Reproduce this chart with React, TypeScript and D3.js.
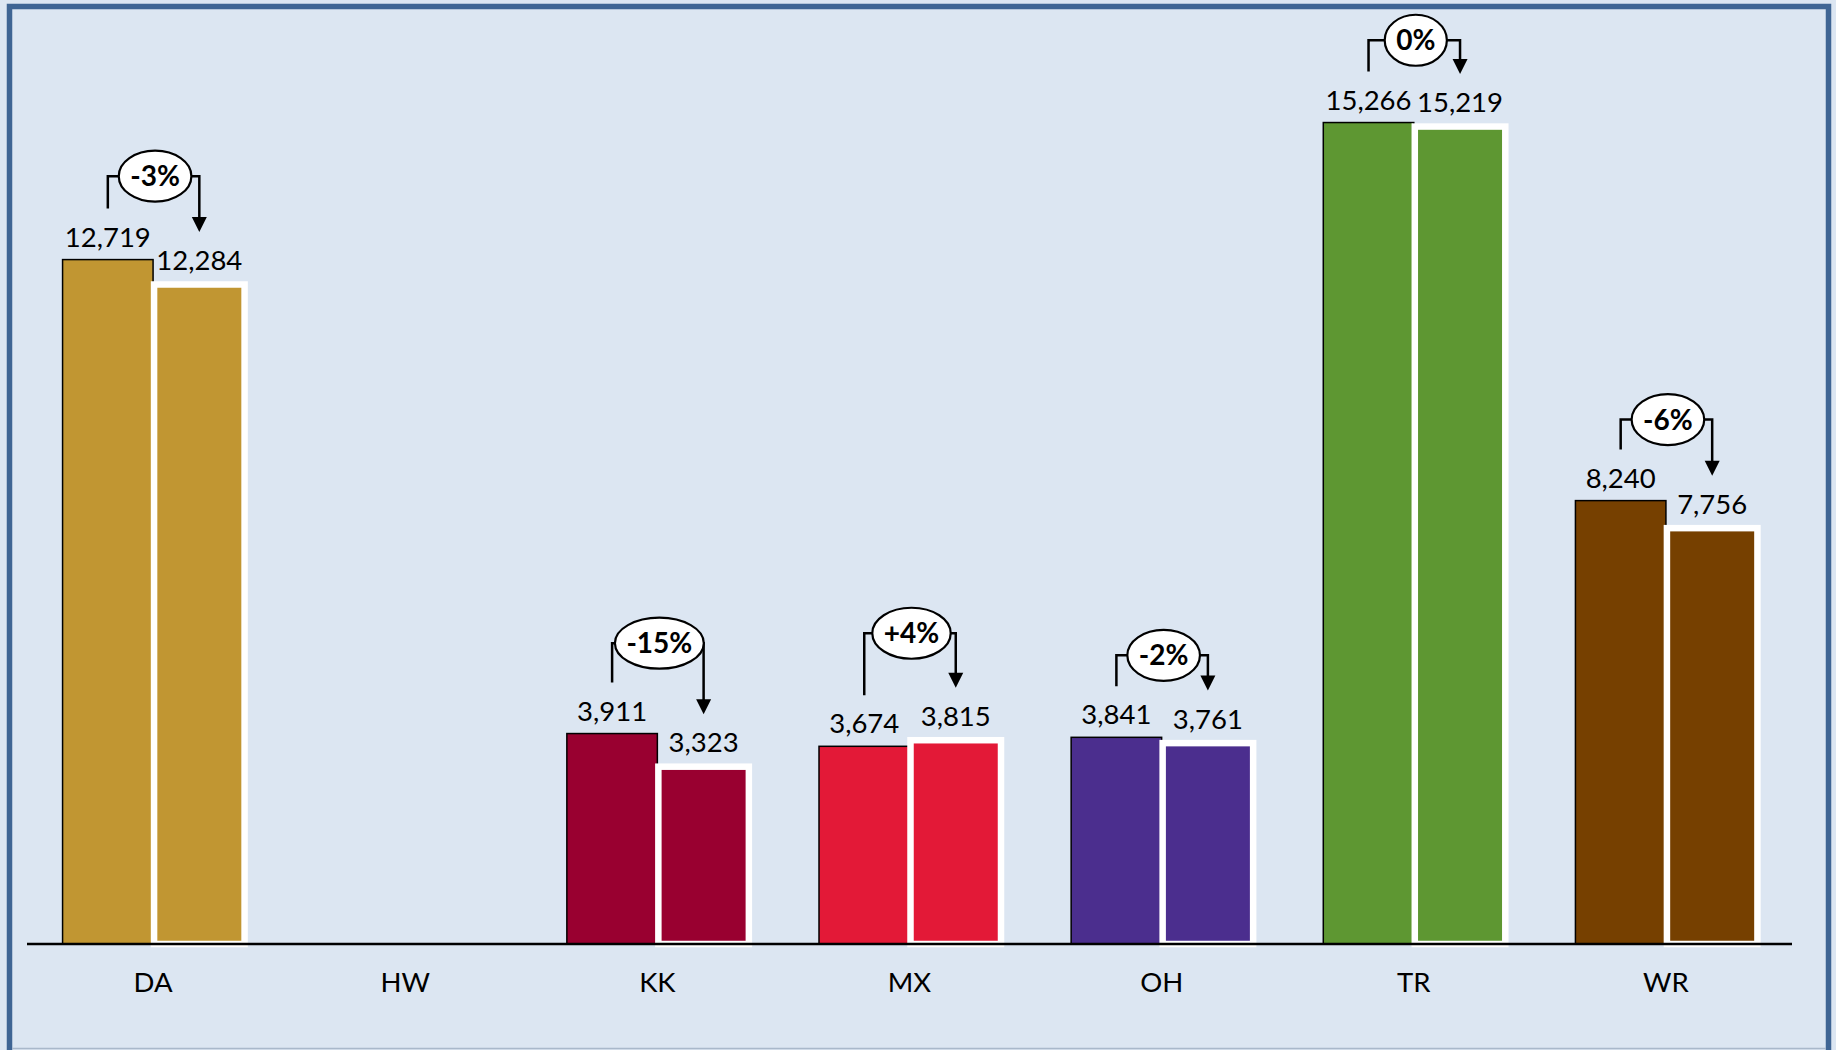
import React, { useMemo, useEffect } from "react";
import * as d3 from "d3";

const categories = ["DA", "HW", "KK", "MX", "OH", "TR", "WR"];
const priorValues: (number | null)[] = [12719, null, 3911, 3674, 3841, 15266, 8240];
const currentValues: (number | null)[] = [12284, null, 3323, 3815, 3761, 15219, 7756];
const changeLabels: (string | null)[] = ["-3%", null, "-15%", "+4%", "-2%", "0%", "-6%"];
const bracketLevels: (number | null)[] = [14270, null, 5590, 5775, 5365, 16795, 9745];
const barColors = ["#c19632", "#7f7f7f", "#990030", "#e31937", "#4b2e8e", "#5e9732", "#764000"];

const W = 1836;
const H = 1050;
const FONT = "Lato, 'Open Sans', sans-serif";

function measure(text: string, font: string): number {
  try {
    const c = document.createElement("canvas");
    const ctx = c.getContext("2d");
    if (ctx) {
      ctx.font = font;
      return ctx.measureText(text).width;
    }
  } catch (e) {}
  return text.length * 15;
}

export default function App() {
  useEffect(() => {
    document.body.style.margin = "0";
  }, []);

  const x = useMemo(() => d3.scaleBand<string>().domain(categories).range([27, 1792]).padding(0), []);
  const y = useMemo(() => d3.scaleLinear().domain([0, 16000]).range([944, 944 - 16000 * 0.05381]), []);
  const fmt = d3.format(",");
  const barW = 90.5;
  const gapAbove = 51;

  return (
    <svg width={W} height={H} style={{ position: "absolute", left: 0, top: 0, display: "block" }} fontFamily={FONT}>
      <rect x={0} y={0} width={W} height={H} fill="#dce6f2" />
      <rect x={9.5} y={6.5} width={1819} height={1060} fill="none" stroke="#3f6594" strokeWidth={5.5} />
      <line x1={12} x2={1826} y1={1048.5} y2={1048.5} stroke="#a9b8cb" strokeWidth={1.5} />

      {categories.map((c, i) => {
        const cx = (x(c) as number) + x.bandwidth() / 2;
        const v1 = priorValues[i];
        const v2 = currentValues[i];
        const elems: React.ReactNode[] = [];
        if (v1 != null) {
          elems.push(
            <rect key="b1" x={cx - barW} y={y(v1)} width={barW} height={y(0) - y(v1)} fill={barColors[i]} stroke="#000" strokeWidth={1.5} />
          );
          elems.push(
            <text key="t1" x={cx - barW / 2} y={y(v1) - 13} textAnchor="middle" fontSize={27.5} fill="#000">
              {fmt(v1)}
            </text>
          );
        }
        if (v2 != null) {
          elems.push(
            <rect key="b2" x={cx + 1} y={y(v2) + 1.5} width={barW} height={y(0) - y(v2) - 1.5} fill={barColors[i]} stroke="#fff" strokeWidth={6.5} />
          );
          elems.push(
            <text key="t2" x={cx + 1 + barW / 2} y={y(v2) - 13} textAnchor="middle" fontSize={27.5} fill="#000">
              {fmt(v2)}
            </text>
          );
        }
        return <g key={c}>{elems}</g>;
      })}

      <line x1={27} x2={1792} y1={944} y2={944} stroke="#000" strokeWidth={2.5} />

      {categories.map((c) => {
        const cx = (x(c) as number) + x.bandwidth() / 2;
        return (
          <text key={"l" + c} x={cx} y={992} textAnchor="middle" fontSize={27.5} fill="#000">
            {c}
          </text>
        );
      })}

      {categories.map((c, i) => {
        const v1 = priorValues[i];
        const v2 = currentValues[i];
        const lbl = changeLabels[i];
        const lvl = bracketLevels[i];
        if (v1 == null || v2 == null || lbl == null || lvl == null) return null;
        const cx = (x(c) as number) + x.bandwidth() / 2;
        const lx = cx - barW / 2;
        const rx = cx + 1 + barW / 2;
        const by = y(lvl);
        const ly = y(v1) - gapAbove;
        const ry = y(v2) - gapAbove;
        const tw = measure(lbl, `bold 28px ${FONT}`);
        const erx = tw / 2 + 11.5;
        const ery = 25.5;
        const ex = cx + 2;
        const ah = 15;
        const aw = 7.5;
        return (
          <g key={"a" + c}>
            <path d={`M${lx},${ly} L${lx},${by} L${ex},${by}`} fill="none" stroke="#000" strokeWidth={2.5} />
            <path d={`M${ex},${by} L${rx},${by} L${rx},${ry - ah + 1}`} fill="none" stroke="#000" strokeWidth={2.5} />
            <path d={`M${rx - aw},${ry - ah} L${rx + aw},${ry - ah} L${rx},${ry} Z`} fill="#000" />
            <ellipse cx={ex} cy={by} rx={erx} ry={ery} fill="#fff" stroke="#000" strokeWidth={2.2} />
            <text x={ex} y={by + 10} textAnchor="middle" fontSize={28} fontWeight="bold" fill="#000">
              {lbl}
            </text>
          </g>
        );
      })}
    </svg>
  );
}
